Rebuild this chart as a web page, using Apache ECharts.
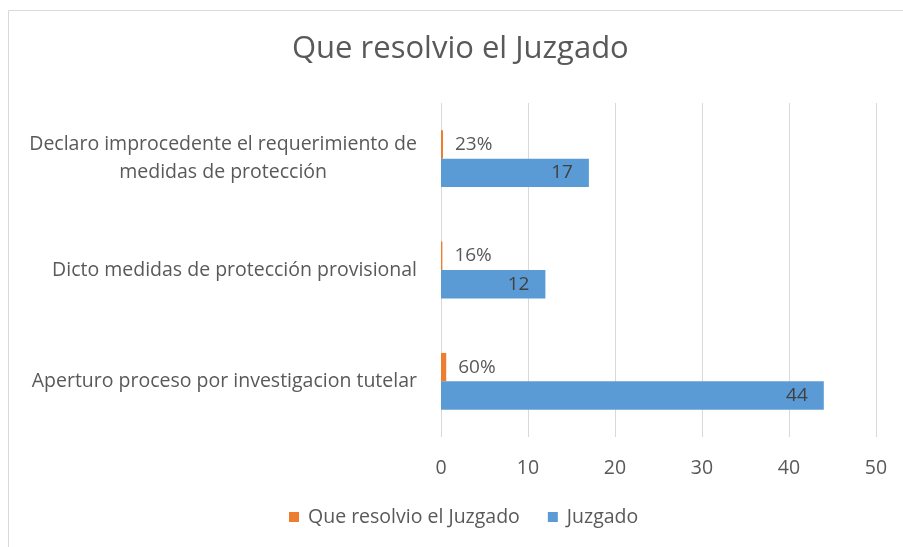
<!DOCTYPE html>
<html>
<head>
<meta charset="utf-8">
<script src="https://cdn.jsdelivr.net/npm/echarts@6/dist/echarts.min.js"></script>
<style>
  html, body { margin: 0; padding: 0; background: #fff; }
  #chart { width: 903px; height: 547px; }
</style>
</head>
<body>
<div id="chart"></div>
<script>
const categories = [
  'Aperturo proceso por investigacion tutelar',
  'Dicto medidas de protección provisional',
  'Declaro improcedente el requerimiento de\nmedidas de protección'
];
const shareValues = [0.60, 0.16, 0.23];
const countValues = [44, 12, 17];
const xTicks = [0, 10, 20, 30, 40, 50];

const textColor = '#595959';
const font = 'Open Sans';
const fs = 19.5;

const chart = echarts.init(document.getElementById('chart'));

const option = {
  backgroundColor: '#fff',
  animation: false,
  title: {
    text: 'Que resolvio el Juzgado',
    left: 292,
    top: 34,
    padding: 0,
    textStyle: { fontFamily: font, fontWeight: 'normal', fontSize: 31, color: textColor }
  },
  graphic: [{
    type: 'rect',
    shape: { x: 8.5, y: 10.5, width: 920, height: 560 },
    style: { fill: 'none', stroke: '#d9d9d9', lineWidth: 1 },
    silent: true
  }],
  legend: {
    data: ['Que resolvio el Juzgado', 'Juzgado'],
    bottom: 15,
    left: 284,
    icon: 'rect',
    itemWidth: 10,
    itemHeight: 10,
    itemGap: 28,
    textStyle: { fontFamily: font, fontSize: fs, color: textColor, padding: [0, 0, 0, 4] }
  },
  grid: { left: 441, right: 27, top: 103, bottom: 110 },
  xAxis: {
    type: 'value',
    min: xTicks[0],
    max: xTicks[xTicks.length - 1],
    interval: 10,
    axisLine: { show: false },
    axisTick: { show: false },
    splitLine: { lineStyle: { color: '#d9d9d9' } },
    axisLabel: { margin: 21, fontFamily: font, fontSize: fs, color: textColor }
  },
  yAxis: {
    type: 'category',
    data: categories,
    axisLine: { show: false },
    axisTick: { show: false },
    axisLabel: {
      margin: 24,
      fontFamily: font,
      fontSize: fs,
      color: textColor,
      lineHeight: 28,
      formatter: v => v.split('\n').map(s => '{c|' + s + '}').join('\n'),
      rich: { c: { align: 'center', fontFamily: font, fontSize: fs, color: textColor, lineHeight: 28 } }
    }
  },
  series: [
    {
      name: 'Que resolvio el Juzgado',
      type: 'bar',
      data: shareValues,
      barGap: '0%',
      barCategoryGap: '49%',
      itemStyle: { color: '#ed7d31' },
      label: {
        show: true,
        position: 'right',
        distance: 12,
        fontFamily: font,
        fontSize: 19,
        color: textColor,
        formatter: p => Math.round(p.value * 100) + '%'
      }
    },
    {
      name: 'Juzgado',
      type: 'bar',
      data: countValues,
      barGap: '0%',
      barCategoryGap: '49%',
      itemStyle: { color: '#5b9bd5' },
      label: {
        show: true,
        position: 'insideRight',
        distance: 16,
        fontFamily: font,
        fontSize: 19,
        color: '#404040'
      }
    }
  ]
};

chart.setOption(option);
</script>
</body>
</html>
